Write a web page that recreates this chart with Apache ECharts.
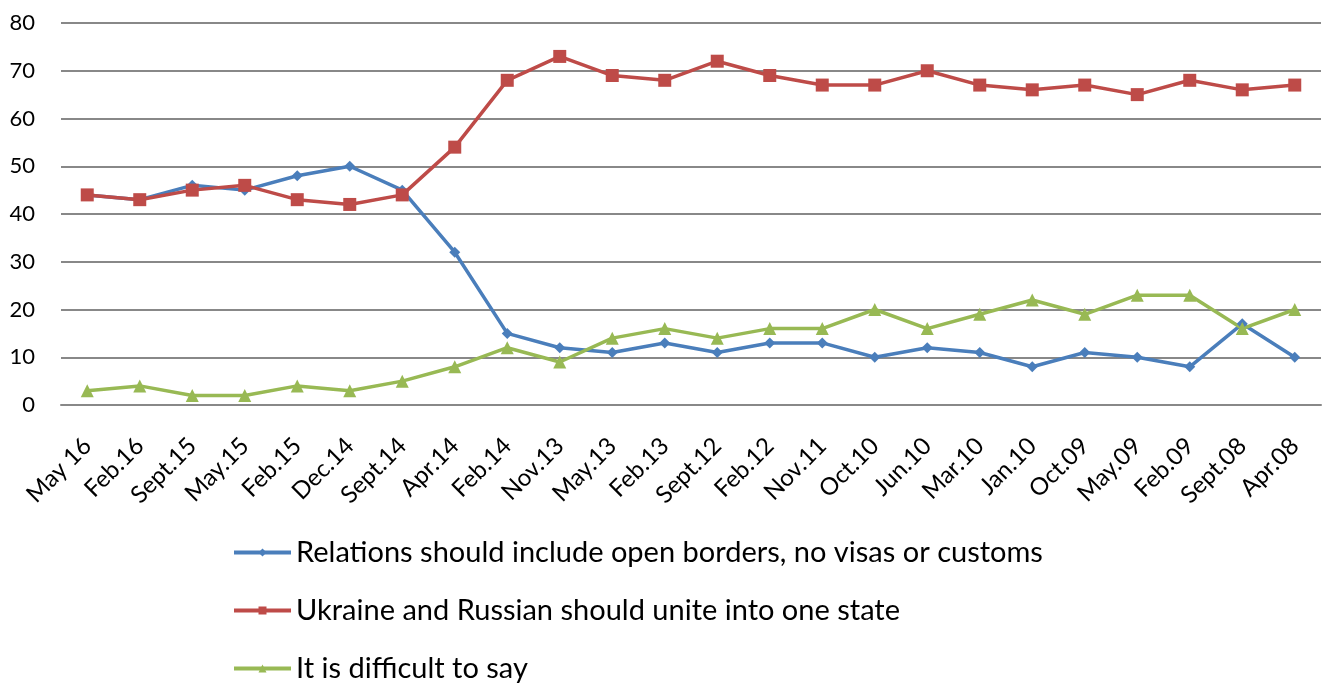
<!DOCTYPE html>
<html>
<head>
<meta charset="utf-8">
<script src="https://cdn.jsdelivr.net/npm/echarts@6/dist/echarts.min.js"></script>
<style>
  html, body { margin: 0; padding: 0; background: #fff; }
  #main { width: 1333px; height: 684px; }
</style>
</head>
<body>
<div id="main"></div>
<script>
var dates = ['May 16', 'Feb.16', 'Sept.15', 'May.15', 'Feb.15', 'Dec.14', 'Sept.14', 'Apr.14',
  'Feb.14', 'Nov.13', 'May.13', 'Feb.13', 'Sept.12', 'Feb.12', 'Nov.11', 'Oct.10', 'Jun.10',
  'Mar.10', 'Jan.10', 'Oct.09', 'May.09', 'Feb.09', 'Sept.08', 'Apr.08'];

var openBorders = [44, 43, 46, 45, 48, 50, 45, 32, 15, 12, 11, 13, 11, 13, 13, 10, 12, 11, 8, 11, 10, 8, 17, 10];
var uniteState = [44, 43, 45, 46, 43, 42, 44, 54, 68, 73, 69, 68, 72, 69, 67, 67, 70, 67, 66, 67, 65, 68, 66, 67];
var difficult = [3, 4, 2, 2, 4, 3, 5, 8, 12, 9, 14, 16, 14, 16, 16, 20, 16, 19, 22, 19, 23, 23, 16, 20];

var names = ['Relations should include open borders, no visas or customs',
  'Ukraine and Russian should unite into one state',
  'It is difficult to say'];

var font = 'Lato';
var myChart = echarts.init(document.getElementById('main'));

function mkSeries(name, data, color, symbol, size) {
  return {
    name: name,
    type: 'line',
    data: data,
    symbol: symbol,
    symbolSize: size,
    itemStyle: { color: color },
    lineStyle: { color: color, width: 3.5 },
    animation: false
  };
}

// one legend per row so they stack like the original
var legendTops = [538, 596, 654];
var legends = names.map(function (n, i) {
  return {
    orient: 'vertical',
    left: 232,
    top: legendTops[i],
    padding: 0,
    itemWidth: 57,
    itemHeight: 10,
    lineStyle: { width: 4 },
    textStyle: { fontFamily: font, fontSize: 29, color: '#000' },
    data: [n]
  };
});

var option = {
  backgroundColor: '#fff',
  grid: { left: 61, right: 12, top: 23, bottom: 279, containLabel: false },
  legend: legends,
  xAxis: {
    type: 'category',
    data: dates,
    boundaryGap: true,
    axisLine: { show: true, lineStyle: { color: '#888', width: 2 } },
    axisTick: { show: false },
    axisLabel: { rotate: 45, interval: 0, margin: 37, fontFamily: font, fontSize: 24, color: '#000' }
  },
  yAxis: {
    type: 'value',
    min: 0,
    max: 80,
    interval: 10,
    axisLine: { show: false },
    axisTick: { show: false },
    splitLine: { lineStyle: { color: '#888', width: 2 } },
    axisLabel: { margin: 26, fontFamily: font, fontSize: 22, color: '#000' }
  },
  series: [
    mkSeries(names[0], openBorders, '#4A7EBB', 'diamond', 11),
    mkSeries(names[1], uniteState, '#BE4B48', 'rect', 13),
    mkSeries(names[2], difficult, '#98B954', 'triangle', 13)
  ]
};
myChart.setOption(option);
</script>
</body>
</html>
